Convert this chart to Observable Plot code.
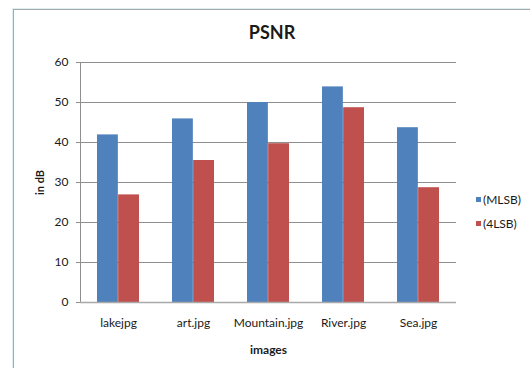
<!DOCTYPE html>
<html>
<head>
<meta charset="utf-8">
<script src="https://cdn.jsdelivr.net/npm/d3@7"></script>
<script src="https://cdn.jsdelivr.net/npm/@observablehq/plot@0.6"></script>
<style>
  body { margin: 0; background: #fff; }
  #chart { position: relative; width: 530px; height: 368px; overflow: hidden; font-family: Lato, "Open Sans", sans-serif; color: #1a1a1a; }
  #chart svg { position: absolute; left: 0; top: 0; }
  .frame-edge { position: absolute; left: 13px; top: 9px; right: -4px; bottom: -4px;
    border-top: 1px solid #a8a8a8; border-left: 1px solid #a8a8a8; box-shadow: -1px -1px 0 #dcf0f3; }
  #title { position: absolute; left: 222px; width: 100px; top: 23px; text-align: center;
    font-size: 18px; line-height: 18px; font-weight: bold; }
  #legend { position: absolute; left: 476px; top: 187px; font-size: 12px; }
  #legend .item { display: flex; align-items: center; height: 24.5px; }
  #legend .sw { width: 5px; height: 5px; margin-right: 2px; }
  g[aria-label="x-axis label"] text, g[aria-label="y-axis label"] text { font-weight: bold; }
  g[aria-label="y-axis label"] text { font-size: 11px; }
</style>
</head>
<body>
<div id="chart">
  <div class="frame-edge"></div>
</div>
<script>
// PSNR of each test image for the two embedding methods, in dB
const images = ["lakejpg", "art.jpg", "Mountain.jpg", "River.jpg", "Sea.jpg"];
const series = ["(MLSB)", "(4LSB)"];
const mlsb = [41.9, 45.9, 50.0, 53.9, 43.7];
const lsb4 = [26.9, 35.5, 39.7, 48.7, 28.7];
const colors = ["#4F81BD", "#C0504D"];
const yTicks = [0, 10, 20, 30, 40, 50, 60];

const rows = images.flatMap((image, i) => [
  {image, series: series[0], value: mlsb[i]},
  {image, series: series[1], value: lsb4[i]}
]);

const W = 530, H = 368;
const margin = {top: 62, right: 74, bottom: 66, left: 80};
const padInner = 0.4375;
// band step with paddingOuter = paddingInner / 2 is plot width / n
const step = (W - margin.left - margin.right) / images.length;
const half = step * (1 - padInner) / 2;

const chart = Plot.plot({
  width: W,
  height: H,
  marginTop: margin.top,
  marginRight: margin.right,
  marginBottom: margin.bottom,
  marginLeft: margin.left,
  style: {fontFamily: "Lato, 'Open Sans', sans-serif", fontSize: "12px", color: "#1a1a1a", background: "transparent"},
  x: {domain: images, paddingInner: padInner, paddingOuter: padInner / 2},
  y: {domain: [0, 60]},
  color: {domain: series, range: colors},
  marks: [
    Plot.gridY({ticks: yTicks, stroke: "#8e8e8e", strokeOpacity: 1}),
    Plot.frame({anchor: "left", stroke: "#8e8e8e"}),
    Plot.barY(rows.filter(d => d.series === series[0]), {x: "image", y: "value", fill: "series", insetRight: half}),
    Plot.barY(rows.filter(d => d.series === series[1]), {x: "image", y: "value", fill: "series", insetLeft: half}),
    Plot.ruleY([0], {stroke: "#a9a9a9", strokeWidth: 1.5}),
    Plot.axisY({ticks: yTicks, tickSize: 4, tickPadding: 8, stroke: "#8e8e8e",
      label: "in dB", labelArrow: "none", labelAnchor: "center", labelOffset: 44}),
    Plot.axisX({tickSize: 0, tickPadding: 16, label: "images", labelArrow: "none", labelAnchor: "center", labelOffset: 51})
  ]
});

const root = document.getElementById("chart");
root.appendChild(chart);

const title = document.createElement("div");
title.id = "title";
title.textContent = "PSNR";
root.appendChild(title);

const legend = document.createElement("div");
legend.id = "legend";
series.forEach((s, i) => {
  const item = document.createElement("div");
  item.className = "item";
  const sw = document.createElement("span");
  sw.className = "sw";
  sw.style.background = colors[i];
  const label = document.createElement("span");
  label.textContent = s;
  item.append(sw, label);
  legend.appendChild(item);
});
root.appendChild(legend);
</script>
</body>
</html>
